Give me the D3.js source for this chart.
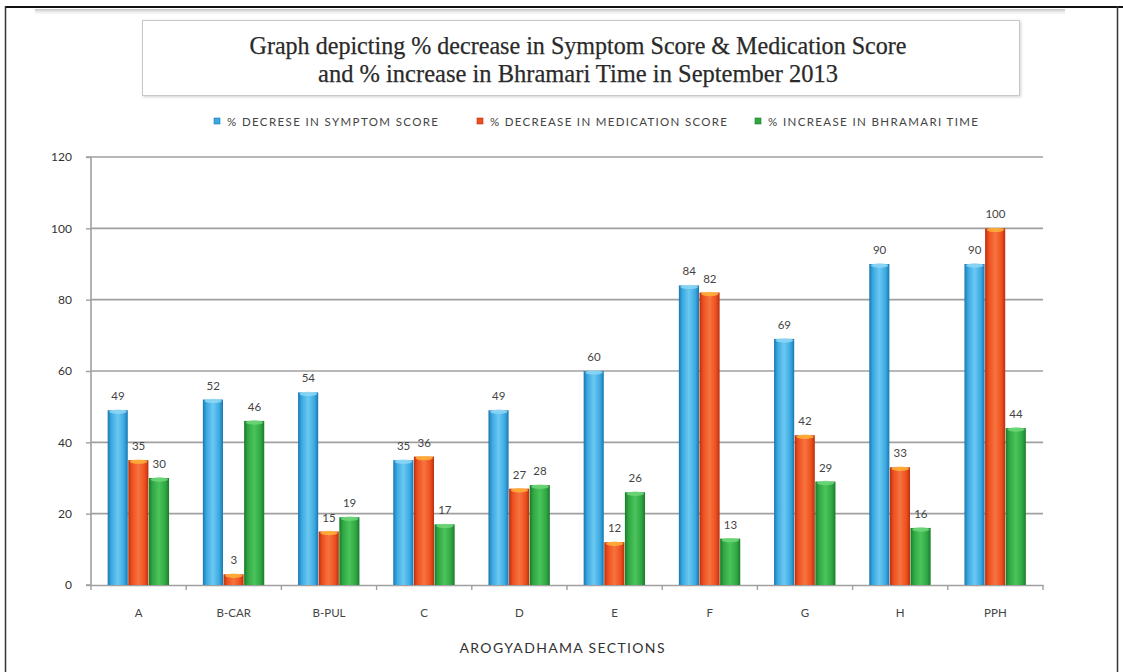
<!DOCTYPE html>
<html>
<head>
<meta charset="utf-8">
<script src="https://cdn.jsdelivr.net/npm/d3@7/dist/d3.min.js"></script>
<style>
  html, body { margin: 0; padding: 0; background: #fff; }
  svg { display: block; }
</style>
</head>
<body>
<svg id="chart" width="1123" height="672"></svg>
<script>
const categories = ["A", "B-CAR", "B-PUL", "C", "D", "E", "F", "G", "H", "PPH"];
const seriesNames = ["% DECRESE IN SYMPTOM SCORE", "% DECREASE IN MEDICATION  SCORE", "% INCREASE IN BHRAMARI TIME"];
const symptomScore = [49, 52, 54, 35, 49, 60, 84, 69, 90, 90];
const medicationScore = [35, 3, 15, 36, 27, 12, 82, 42, 33, 100];
const bhramariTime = [30, 46, 19, 17, 28, 26, 13, 29, 16, 44];
const yTicks = [0, 20, 40, 60, 80, 100, 120];
const titleLines = ["Graph depicting  % decrease in Symptom Score & Medication Score", "and % increase in Bhramari Time in September 2013"];
const xAxisTitle = "AROGYADHAMA SECTIONS";

const seriesValues = [symptomScore, medicationScore, bhramariTime];
const colors = [
  {base: "#39a9e1", dark: "#1c76b0", light: "#6cc8f2", cap: "#8ed6f5"},
  {base: "#ee4f1f", dark: "#b8300e", light: "#f6743f", cap: "#ffb33a"},
  {base: "#2fa843", dark: "#1a7a2a", light: "#4cc45c", cap: "#6fd67a"}
];

const svg = d3.select("#chart");
const defs = svg.append("defs");

colors.forEach((c, i) => {
  const g = defs.append("linearGradient").attr("id", "bar" + i).attr("x1", "0").attr("x2", "1").attr("y1", "0").attr("y2", "0");
  g.append("stop").attr("offset", "0").attr("stop-color", c.dark);
  g.append("stop").attr("offset", "0.18").attr("stop-color", c.base);
  g.append("stop").attr("offset", "0.5").attr("stop-color", c.light);
  g.append("stop").attr("offset", "0.82").attr("stop-color", c.base);
  g.append("stop").attr("offset", "1").attr("stop-color", c.dark);
});
const sh = defs.append("linearGradient").attr("id", "topShadow").attr("x1", "0").attr("x2", "0").attr("y1", "0").attr("y2", "1");
sh.append("stop").attr("offset", "0").attr("stop-color", "#999").attr("stop-opacity", 0.6);
sh.append("stop").attr("offset", "1").attr("stop-color", "#fff").attr("stop-opacity", 0);
const boxSh = defs.append("filter").attr("id", "boxShadow").attr("x", "-5%").attr("y", "-20%").attr("width", "110%").attr("height", "140%");
boxSh.append("feDropShadow").attr("dx", 1).attr("dy", 1).attr("stdDeviation", 1.5).attr("flood-color", "#000").attr("flood-opacity", 0.18);

// page frame
svg.append("rect").attr("x", 35).attr("y", 9).attr("width", 1030).attr("height", 7).attr("fill", "url(#topShadow)");
svg.append("line").attr("x1", 5).attr("x2", 1123).attr("y1", 7).attr("y2", 7).attr("stroke", "#111").attr("stroke-width", 2);
svg.append("line").attr("x1", 5.5).attr("x2", 5.5).attr("y1", 6).attr("y2", 672).attr("stroke", "#333").attr("stroke-width", 1.5);
svg.append("line").attr("x1", 1117.5).attr("x2", 1117.5).attr("y1", 6).attr("y2", 672).attr("stroke", "#333").attr("stroke-width", 1.5);

// title box
svg.append("rect").attr("x", 142.5).attr("y", 20.5).attr("width", 877).attr("height", 75)
  .attr("fill", "#fff").attr("stroke", "#c8c8c8").attr("stroke-width", 1).attr("filter", "url(#boxShadow)");
const titleWidths = [657, 520];
svg.append("g").selectAll("text").data(titleLines).join("text")
  .attr("x", 578).attr("y", (d, i) => 54 + i * 28)
  .attr("text-anchor", "middle")
  .attr("font-family", "'Liberation Serif', 'DejaVu Serif', serif")
  .attr("font-size", 26)
  .attr("fill", "#2a2a2a")
  .attr("stroke", "#2a2a2a").attr("stroke-width", 0.25)
  .attr("textLength", (d, i) => titleWidths[i])
  .attr("lengthAdjust", "spacingAndGlyphs")
  .text(d => d);

// scales
const margin = {left: 91, right: 1043, top: 157, bottom: 585};
const x0 = d3.scaleBand().domain(categories).range([margin.left, margin.right]).paddingInner(0.35).paddingOuter(0.175);
const x1 = d3.scaleBand().domain(d3.range(3)).range([0, x0.bandwidth()]).padding(0);
const y = d3.scaleLinear().domain([0, 120]).range([margin.bottom, margin.top]);

// gridlines
svg.append("g").selectAll("line").data(yTicks.filter(d => d > 0)).join("line")
  .attr("x1", margin.left).attr("x2", margin.right)
  .attr("y1", d => y(d)).attr("y2", d => y(d))
  .attr("stroke", "#a0a0a0").attr("stroke-width", 1.6);

// y axis
const yAxis = svg.append("g").attr("transform", `translate(${margin.left},0)`)
  .call(d3.axisLeft(y).tickValues(yTicks).tickSize(5).tickPadding(14));
yAxis.select(".domain").attr("stroke", "#a0a0a0").attr("stroke-width", 1.6).attr("d", `M-5,${y(0)}H0V${y(120)}H-5`);
yAxis.selectAll(".tick line").attr("stroke", "#a0a0a0").attr("stroke-width", 1.4);
yAxis.selectAll(".tick text").attr("font-family", "Lato, 'Open Sans', sans-serif").attr("font-size", 12).attr("fill", "#333");

// x axis
const xAxisG = svg.append("g").attr("transform", `translate(0,${y(0)})`)
  .call(d3.axisBottom(x0).tickSize(0).tickPadding(24));
xAxisG.select(".domain").attr("stroke", "#a0a0a0").attr("stroke-width", 1.6);
xAxisG.selectAll(".tick text").attr("font-family", "Lato, 'Open Sans', sans-serif").attr("font-size", 11.5).attr("fill", "#444");
const step = x0.step();
svg.append("g").selectAll("line").data(d3.range(categories.length + 1)).join("line")
  .attr("x1", i => margin.left + i * step).attr("x2", i => margin.left + i * step)
  .attr("y1", y(0)).attr("y2", y(0) + 5)
  .attr("stroke", "#a0a0a0").attr("stroke-width", 1.4);

// bars
const groups = svg.append("g").selectAll("g").data(categories).join("g")
  .attr("transform", d => `translate(${x0(d)},0)`);

groups.each(function(cat, ci) {
  const g = d3.select(this);
  const data = seriesValues.map((vals, si) => ({si, v: vals[ci]}));
  g.selectAll("rect.bar").data(data).join("rect").attr("class", "bar")
    .attr("x", d => x1(d.si)).attr("width", x1.bandwidth() - 0.5)
    .attr("y", d => y(d.v)).attr("height", d => y(0) - y(d.v))
    .attr("fill", d => `url(#bar${d.si})`);
  g.selectAll("ellipse.cap").data(data).join("ellipse").attr("class", "cap")
    .attr("cx", d => x1(d.si) + x1.bandwidth() / 2).attr("cy", d => y(d.v) + 1.5)
    .attr("rx", x1.bandwidth() / 2 - 1.5).attr("ry", 2.2)
    .attr("fill", d => colors[d.si].cap).attr("opacity", 0.85);
  g.selectAll("text.lbl").data(data).join("text").attr("class", "lbl")
    .attr("x", d => x1(d.si) + x1.bandwidth() / 2).attr("y", d => y(d.v) - 10)
    .attr("text-anchor", "middle")
    .attr("font-family", "Lato, 'Open Sans', sans-serif").attr("font-size", 11.5).attr("fill", "#444")
    .text(d => d.v);
});

// legend
const legendX = [214, 477, 755];
const legendW = [211, 237, 210];
const lg = svg.append("g").selectAll("g").data(seriesNames).join("g")
  .attr("transform", (d, i) => `translate(${legendX[i]},118)`);
lg.append("rect").attr("x", 0).attr("y", 0).attr("width", 6).attr("height", 6)
  .attr("fill", (d, i) => colors[i].base).attr("stroke", (d, i) => colors[i].dark).attr("stroke-width", 0.6);
lg.append("text").attr("x", 13).attr("y", 7.5)
  .attr("font-family", "Lato, 'Open Sans', sans-serif").attr("font-size", 11.5).attr("fill", "#444")
  .attr("textLength", (d, i) => legendW[i]).attr("lengthAdjust", "spacing")
  .text(d => d);

// axis title
svg.append("text").attr("x", 562).attr("y", 653).attr("text-anchor", "middle")
  .attr("font-family", "Lato, 'Open Sans', sans-serif").attr("font-size", 14).attr("fill", "#333")
  .attr("textLength", 205).attr("lengthAdjust", "spacing")
  .text(xAxisTitle);
</script>
</body>
</html>
